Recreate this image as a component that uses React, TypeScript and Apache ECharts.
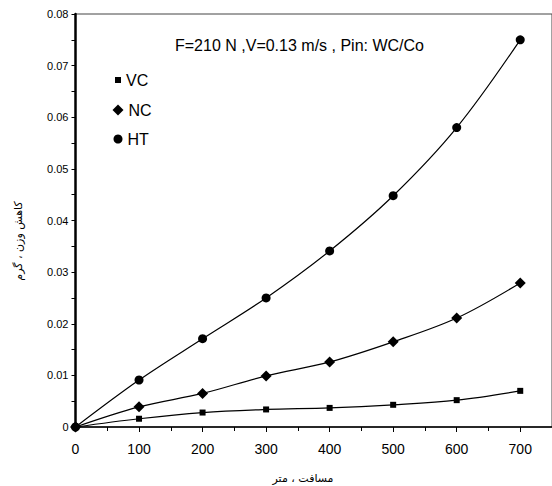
import React, { useEffect, useRef } from "react";
import * as echarts from "echarts";

const distance = [0, 100, 200, 300, 400, 500, 600, 700];
const vcValues = [0, 0.0016, 0.0028, 0.0034, 0.0037, 0.0043, 0.0052, 0.007];
const ncValues = [0, 0.0039, 0.0065, 0.0099, 0.0126, 0.0165, 0.0211, 0.0279];
const htValues = [0, 0.0091, 0.0171, 0.025, 0.0341, 0.0448, 0.058, 0.075];
const seriesNames = ["VC", "NC", "HT"];
const titleText = "F=210 N ,V=0.13 m/s , Pin: WC/Co";
const xAxisTitle = "مسافت ، متر";
const yAxisTitle = "کاهش وزن ، گرم";

const FONT = "'Liberation Sans', Arial, sans-serif";

export default function App() {
  const ref = useRef<HTMLDivElement>(null);
  useEffect(() => {
    if (!ref.current) return;
    const chart = echarts.init(ref.current, null, { renderer: "svg" });
    const pair = (vals: number[]) => distance.map((d, i) => [d, vals[i]]);
    const mkSeries = (name: string, vals: number[], symbol: string, size: number, z: number) => ({
      name,
      type: "line",
      data: pair(vals),
      smooth: 0.35,
      symbol,
      symbolSize: size,
      showAllSymbol: true,
      z,
      lineStyle: { color: "#000", width: 1.2 },
      itemStyle: { color: "#000", borderWidth: 0 },
    });
    const mkLegend = (name: string, icon: string, size: number, top: number) => ({
      data: [{ name, icon }],
      orient: "vertical",
      left: 118 - size / 2,
      top: top - 9,
      itemWidth: size,
      itemHeight: size,
      padding: 0,
      textStyle: { fontFamily: FONT, fontSize: 16, color: "#000", padding: [0, 0, 0, 0] },
      selectedMode: false,
    });
    chart.setOption({
      animation: false,
      backgroundColor: "#fff",
      grid: {
        left: 75.5,
        top: 14,
        bottom: 59,
        right: -6,
        show: true,
        borderColor: "#444",
        borderWidth: 1,
      },
      legend: [
        mkLegend(seriesNames[0], "rect", 6, 81),
        mkLegend(seriesNames[1], "diamond", 11, 111),
        mkLegend(seriesNames[2], "circle", 9, 140),
      ],
      xAxis: {
        type: "value",
        min: 0,
        max: 750,
        interval: 100,
        axisLine: { show: true, onZero: false, lineStyle: { color: "#000", width: 1.5 } },
        axisTick: { show: true, inside: false, length: 5, lineStyle: { color: "#000" } },
        minorTick: { show: true, splitNumber: 2, length: 4, lineStyle: { color: "#000" } },
        splitLine: { show: false },
        axisLabel: {
          fontFamily: FONT,
          fontSize: 14,
          color: "#000",
          margin: 15,
          showMaxLabel: false,
          formatter: (v: number) => (v > 700 ? "" : String(v)),
        },
      },
      yAxis: {
        type: "value",
        min: 0,
        max: 0.08,
        interval: 0.01,
        axisLine: { show: true, onZero: false, lineStyle: { color: "#000", width: 2.5 } },
        axisTick: { show: true, inside: false, length: 4, lineStyle: { color: "#000" } },
        minorTick: { show: true, splitNumber: 2, length: 4, lineStyle: { color: "#000" } },
        splitLine: { show: false },
        axisLabel: {
          fontFamily: FONT,
          fontSize: 11,
          color: "#000",
          margin: 7,
          formatter: (v: number) => (v === 0 ? "0" : v.toFixed(2)),
        },
      },
      graphic: [
        {
          type: "text",
          left: 175,
          top: 37,
          style: { text: titleText, fontFamily: FONT, fontSize: 16, fill: "#000" },
        },
        {
          type: "text",
          x: 303,
          y: 478,
          style: {
            text: xAxisTitle,
            fontFamily: "'DejaVu Sans', sans-serif",
            fontSize: 11,
            fill: "#000",
            align: "center",
            verticalAlign: "middle",
          },
        },
        {
          type: "text",
          x: 18,
          y: 241,
          rotation: Math.PI / 2,
          style: {
            text: yAxisTitle,
            fontFamily: "'DejaVu Sans', sans-serif",
            fontSize: 11,
            fill: "#000",
            align: "center",
            verticalAlign: "middle",
          },
        },
      ],
      series: [
        mkSeries(seriesNames[0], vcValues, "rect", 6, 3),
        mkSeries(seriesNames[1], ncValues, "diamond", 11, 4),
        mkSeries(seriesNames[2], htValues, "circle", 9, 2),
      ],
    });
    return () => chart.dispose();
  }, []);
  return (
    <div
      ref={ref}
      style={{ position: "fixed", left: 0, top: 0, width: 552, height: 486, background: "#fff" }}
    />
  );
}
